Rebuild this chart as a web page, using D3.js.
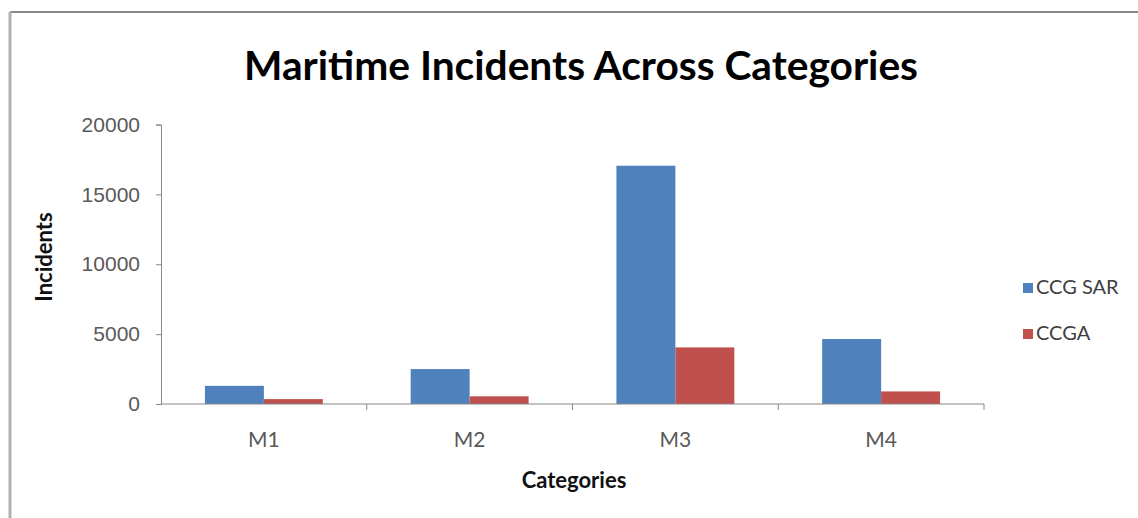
<!DOCTYPE html>
<html>
<head>
<meta charset="utf-8">
<script src="https://cdn.jsdelivr.net/npm/d3@7"></script>
<style>
  body { margin: 0; background: #fff; }
  svg { display: block; font-family: Lato, "Open Sans", sans-serif; }
</style>
</head>
<body>
<svg id="chart" width="1138" height="518"></svg>
<script>
// data
const categories = ["M1", "M2", "M3", "M4"];
const seriesNames = ["CCG SAR", "CCGA"];
const ccgSar = [1300, 2500, 17050, 4650];
const ccga = [350, 550, 4050, 900];
const yTicks = [0, 5000, 10000, 15000, 20000];

const colors = ["#4f81bd", "#c0504d"];

const width = 1138, height = 518;
const margin = { top: 124.5, right: 154, bottom: 114, left: 161 };

const svg = d3.select("#chart");

// chart frame (only top and left edges visible in picture)
svg.append("line")
  .attr("x1", 10).attr("x2", width).attr("y1", 12).attr("y2", 12)
  .attr("stroke", "#8a8a8a").attr("stroke-width", 2);
svg.append("line")
  .attr("x1", 10).attr("x2", 10).attr("y1", 12).attr("y2", height)
  .attr("stroke", "#b0b0b0").attr("stroke-width", 3);

const x0 = d3.scaleBand()
  .domain(categories)
  .range([margin.left, width - margin.right])
  .paddingInner(0)
  .paddingOuter(0);

const x1 = d3.scaleBand()
  .domain(seriesNames)
  .range([0, x0.bandwidth()])
  .paddingInner(0)
  .paddingOuter(0.745);

const y = d3.scaleLinear()
  .domain([0, 20000])
  .range([height - margin.bottom, margin.top]);

const rows = categories.map((c, i) => ({ cat: c, vals: [ccgSar[i], ccga[i]] }));

const groups = svg.append("g")
  .selectAll("g")
  .data(rows)
  .enter()
  .append("g")
  .attr("transform", d => "translate(" + x0(d.cat) + ",0)");

groups.selectAll("rect")
  .data(d => d.vals.map((v, j) => ({ name: seriesNames[j], v: v, j: j })))
  .enter()
  .append("rect")
  .attr("x", d => x1(d.name))
  .attr("width", x1.bandwidth())
  .attr("y", d => y(d.v))
  .attr("height", d => y(0) - y(d.v))
  .attr("fill", d => colors[d.j]);

// y axis
const yAxis = svg.append("g")
  .attr("transform", "translate(" + margin.left + ",0)")
  .call(d3.axisLeft(y).tickValues(yTicks).tickSize(5).tickPadding(16).tickFormat(d3.format("d")));
yAxis.select(".domain").attr("stroke", "#868686");
yAxis.selectAll(".tick line").attr("stroke", "#868686");
yAxis.selectAll("text").attr("fill", "#595959").style("font-size", "21px");

// x axis with ticks at category boundaries
const xAxis = svg.append("g")
  .attr("transform", "translate(0," + y(0) + ")");
xAxis.append("line")
  .attr("x1", margin.left).attr("x2", width - margin.right)
  .attr("stroke", "#868686");
xAxis.selectAll(".bt")
  .data(categories.slice(1).concat(["end"]))
  .enter()
  .append("line")
  .attr("x1", (d, i) => x0(categories[i]) + x0.bandwidth())
  .attr("x2", (d, i) => x0(categories[i]) + x0.bandwidth())
  .attr("y1", 0).attr("y2", 6)
  .attr("stroke", "#868686");
xAxis.selectAll("text")
  .data(categories)
  .enter()
  .append("text")
  .attr("x", d => x0(d) + x0.bandwidth() / 2)
  .attr("y", 43)
  .attr("text-anchor", "middle")
  .attr("fill", "#595959")
  .style("font-size", "21px")
  .text(d => d);

// title
svg.append("text")
  .attr("x", 581).attr("y", 80)
  .attr("text-anchor", "middle")
  .style("font-size", "41px").style("font-weight", "bold")
  .attr("textLength", 674).attr("lengthAdjust", "spacingAndGlyphs")
  .text("Maritime Incidents Across Categories");

// axis titles
svg.append("text")
  .attr("x", 574).attr("y", 488)
  .attr("text-anchor", "middle")
  .style("font-size", "22px").style("font-weight", "bold")
  .attr("fill", "#111")
  .text("Categories");

svg.append("text")
  .attr("transform", "translate(52,257) rotate(-90)")
  .attr("text-anchor", "middle")
  .style("font-size", "22px").style("font-weight", "bold")
  .attr("fill", "#111")
  .text("Incidents");

// legend
const legend = svg.append("g")
  .selectAll("g")
  .data(seriesNames)
  .enter()
  .append("g")
  .attr("transform", (d, i) => "translate(1023," + (283 + i * 46) + ")");
legend.append("rect")
  .attr("width", 10).attr("height", 10)
  .attr("fill", (d, i) => colors[i]);
legend.append("text")
  .attr("x", 13).attr("y", 11)
  .attr("fill", "#404040")
  .style("font-size", "20px")
  .text(d => d);
</script>
</body>
</html>
